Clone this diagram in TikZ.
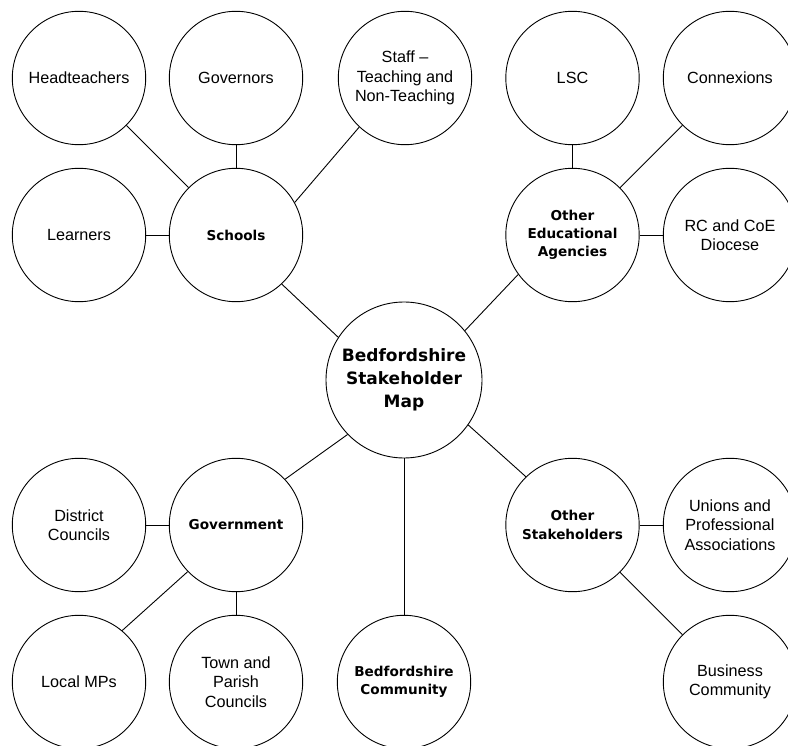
\documentclass[tikz,border=0pt]{standalone}
\usepackage{fontspec}
\setmainfont{Liberation Sans}
\newfontfamily\boldfam{DejaVu Sans}[BoldFont={DejaVu Sans Bold}]
\begin{document}
\begin{tikzpicture}[x=1pt,y=-1pt,
  bub/.style={circle,draw=black,line width=0.9pt,minimum size=133.4pt,inner sep=0pt,align=center,
    font=\fontsize{16.2}{19.5}\selectfont},
  hub/.style={bub,font=\boldfam\bfseries\fontsize{13.6}{18.3}\selectfont},
  core/.style={bub,minimum size=156pt,font=\boldfam\bfseries\fontsize{17}{22.7}\selectfont},
  link/.style={line width=0.9pt}]
\useasboundingbox (0,0) rectangle (788,746);
\node[core] (map) at (404,380) {Bedfordshire\\Stakeholder\\Map};
\node[hub] (schools) at (236,235) {Schools};
\node[bub] (head) at (79,78) {Headteachers};
\node[bub] (gov) at (236,78) {Governors};
\node[bub] (staff) at (405,78) {Staff –\\Teaching and\\Non-Teaching};
\node[bub] (learn) at (79,235) {Learners};
\node[hub] (oea) at (572.5,235) {Other\\Educational\\Agencies};
\node[bub] (lsc) at (572.5,78) {LSC};
\node[bub] (conn) at (730,78) {Connexions};
\node[bub] (rc) at (730,235) {RC and CoE\\Diocese};
\node[hub] (govt) at (236,525) {Government};
\node[bub] (dist) at (79,525) {District\\Councils};
\node[bub] (mps) at (79,682) {Local MPs};
\node[bub] (town) at (236,682) {Town and\\Parish\\Councils};
\node[hub] (comm) at (404,682) {Bedfordshire\\Community};
\node[hub] (os) at (572.5,525) {Other\\Stakeholders};
\node[bub] (unions) at (730,525) {Unions and\\Professional\\Associations};
\node[bub] (bus) at (730,682) {Business\\Community};
\draw[link] (head) -- (schools);
\draw[link] (gov) -- (schools);
\draw[link] (staff.227) -- (schools.29);
\draw[link] (learn) -- (schools);
\draw[link] (schools.-47) -- (map.147);
\draw[link] (lsc) -- (oea);
\draw[link] (conn) -- (oea);
\draw[link] (rc) -- (oea);
\draw[link] (oea.216) -- (map.39);
\draw[link] (govt.43) -- (map.224);
\draw[link] (dist) -- (govt);
\draw[link] (mps.50) -- (govt.224);
\draw[link] (town) -- (govt);
\draw[link] (map) -- (comm);
\draw[link] (map.-35) -- (os.134);
\draw[link] (unions) -- (os);
\draw[link] (bus) -- (os);
\end{tikzpicture}
\end{document}
